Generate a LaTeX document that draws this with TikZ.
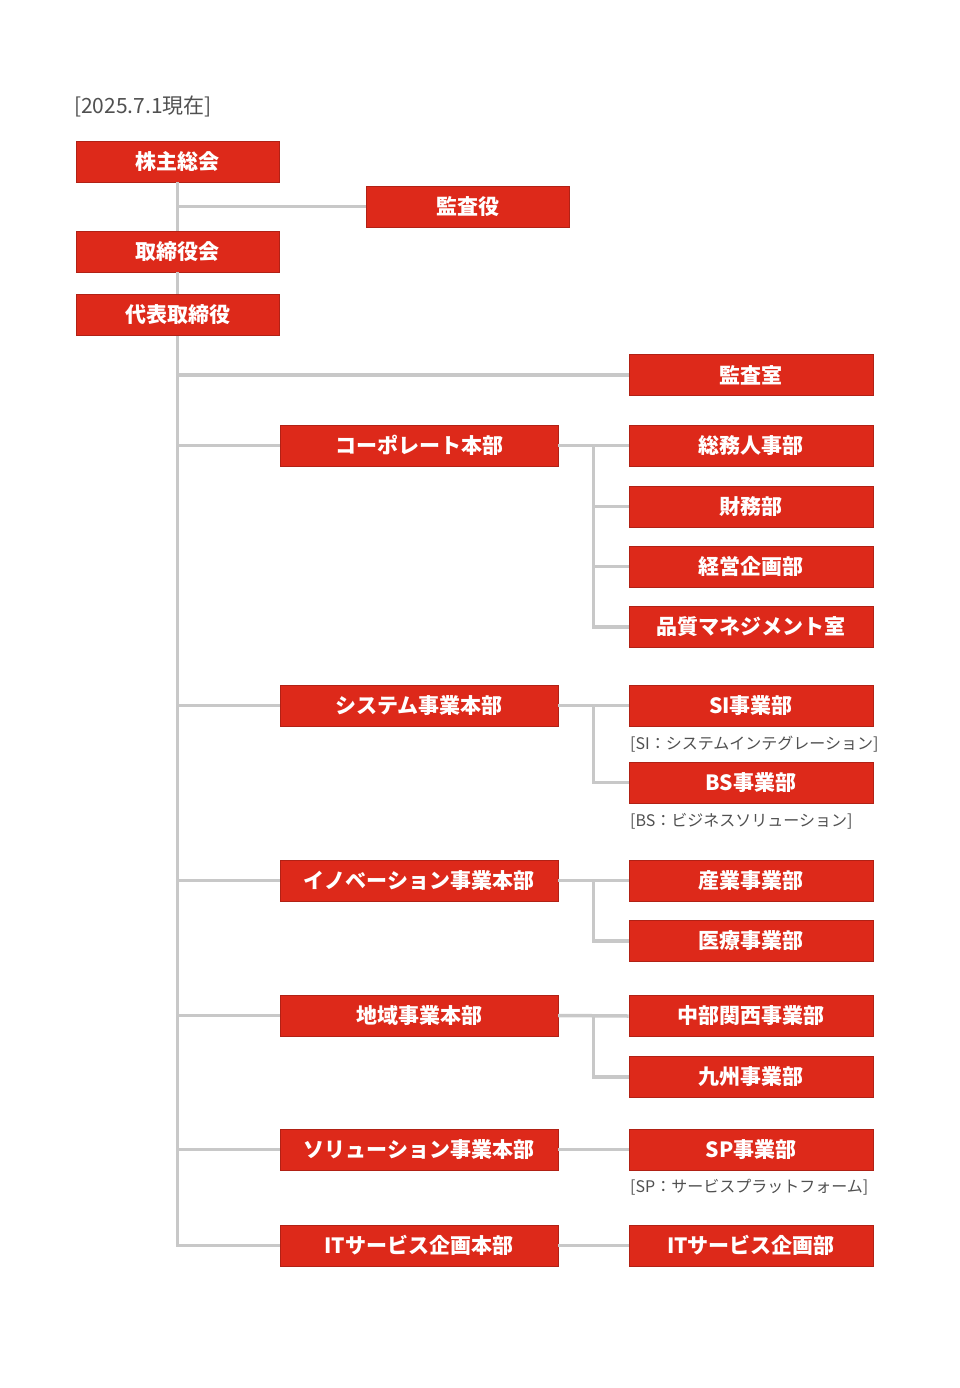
\documentclass[tikz,border=0pt]{standalone}
\usepackage{fontspec}
\newfontfamily\jp{Noto Sans CJK JP}
\usetikzlibrary{calc}
\usetikzlibrary{positioning}
\definecolor{org-red}{RGB}{221, 41, 26}
\definecolor{org-gray}{RGB}{200, 200, 200}
\definecolor{note-gray}{RGB}{80, 80, 80}
\tikzset{
  orgbox/.style={fill=org-red, draw=org-red!80!black, line width=0.6pt, text=white,
    minimum height=41pt, inner sep=0pt, font=\jp\fontsize{21}{21}\selectfont\bfseries},
  topbox/.style={orgbox, minimum width=203pt},
  midbox/.style={orgbox, minimum width=278pt},
  subbox/.style={orgbox, minimum width=244pt},
  link/.style={draw=org-gray, line width=3.5pt},
  note/.style={anchor=west, inner sep=0pt, text=note-gray, font=\jp\fontsize{16}{16}\selectfont},
}
\begin{document}
\begin{tikzpicture}[x=1pt, y=-1pt]
\useasboundingbox (0,0) rectangle (960,1388);
\node[anchor=west, inner sep=0pt, text=note-gray, font=\jp\fontsize{21}{21}\selectfont] (date) at (74,106) {[2025.7.1現在]};
% top
\node[topbox] (meeting) at (177.5,161.5) {株主総会};
\node[topbox] (auditor) at (467.5,206.5) {監査役};
\node[topbox] (board) at (177.5,251.5) {取締役会};
\node[topbox] (ceo) at (177.5,315) {代表取締役};
% headquarters
\node[midbox] (corp) at (419,445.5) {コーポレート本部};
\node[midbox] (sys) at (419,705.5) {システム事業本部};
\node[midbox] (inno) at (419,880.5) {イノベーション事業本部};
\node[midbox] (area) at (419,1015.5) {地域事業本部};
\node[midbox] (sol) at (419,1149.5) {ソリューション事業本部};
\node[midbox] (its) at (419,1245.5) {ITサービス企画本部};
% divisions
\node[subbox] (audit) at (751,375) {監査室};
\node[subbox] (hr) at (751,445.5) {総務人事部};
\node[subbox] (fin) at (751,506.5) {財務部};
\node[subbox] (plan) at (751,566.5) {経営企画部};
\node[subbox] (qm) at (751,627) {品質マネジメント室};
\node[subbox] (si) at (751,705.5) {SI事業部};
\node[subbox] (bs) at (751,782.5) {BS事業部};
\node[subbox] (ind) at (751,880.5) {産業事業部};
\node[subbox] (med) at (751,941) {医療事業部};
\node[subbox] (chubu) at (751,1016) {中部関西事業部};
\node[subbox] (kyushu) at (751,1077) {九州事業部};
\node[subbox] (sp) at (751,1149.5) {SP事業部};
\node[subbox] (itp) at (751,1245.5) {ITサービス企画部};
% notes
\node[note] (sinote) at (630,744) {[SI：システムインテグレーション]};
\node[note] (bsnote) at (630,821) {[BS：ビジネスソリューション]};
\node[note] (spnote) at (630,1187) {[SP：サービスプラットフォーム]};
% connectors
\begin{scope}[on background layer/.style={}]
\draw[link] (meeting.south) -- (board.north);
\draw[link] (board.south) -- (ceo.north);
\draw[link] (meeting.south |- auditor.west) -- (auditor.west);
\draw[link] (ceo.south) -- (ceo.south |- its.west) -- (its.west);
\foreach \n in {audit, corp, sys, inno, area, sol}
  \draw[link] (ceo.south |- \n.west) -- (\n.west);
\foreach \a/\b in {corp/qm, sys/bs, inno/med, area/kyushu} {
  \draw[link] (\a.east) -- ($(\a.east)!0.5!(\a.east -| hr.west)$) |- (\b.west);
}
\foreach \a/\b in {corp/fin, corp/plan}
  \draw[link] ($(corp.east)!0.5!(corp.east -| hr.west)$) |- (\b.west);
\foreach \a/\b in {corp/hr, sys/si, inno/ind, area/chubu, sol/sp, its/itp}
  \draw[link] (\a.east) -- (\b.west);
\end{scope}
\end{tikzpicture}
\end{document}
